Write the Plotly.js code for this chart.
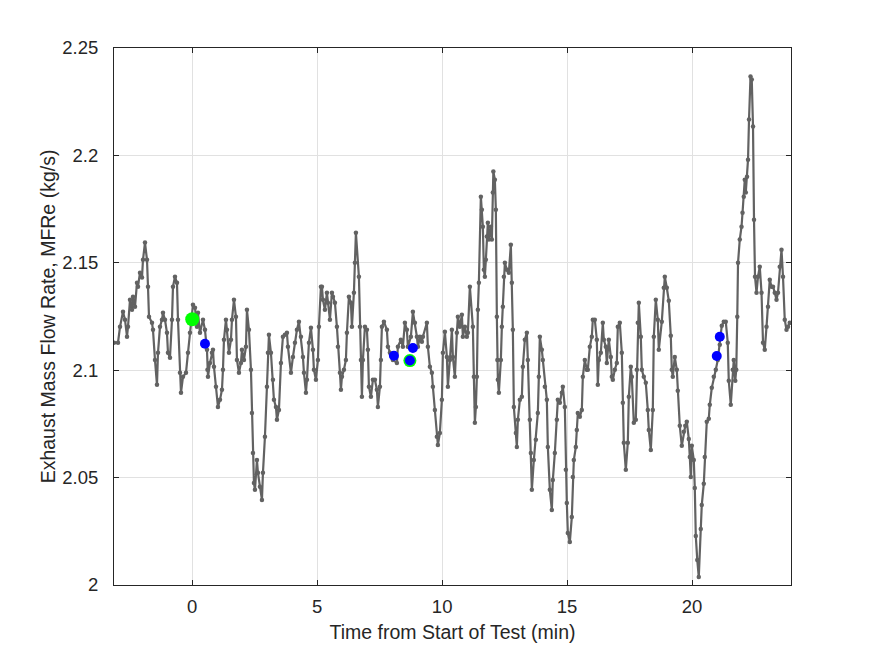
<!DOCTYPE html>
<html>
<head>
<meta charset="utf-8">
<script src="https://cdn.plot.ly/plotly-3.0.1.min.js"></script>
<style>html,body{margin:0;padding:0;background:#fff;}#chart{width:875px;height:656px;}</style>
</head>
<body>
<div id="chart"></div>
<script>
const timeMin = [
-3.13,-2.97,-2.89,-2.77,-2.69,-2.61,-2.57,-2.49,-2.41,-2.37,
-2.29,-2.21,-2.17,-2.09,-2.01,-1.97,-1.89,-1.81,-1.77,-1.73,
-1.61,-1.57,-1.49,-1.41,-1.37,-1.29,-1.21,-1.17,-1.09,-1.01,
-0.97,-0.89,-0.81,-0.77,-0.69,-0.61,-0.57,-0.49,-0.45,-0.37,
-0.25,-0.17,-0.09,-0.01,0.03,0.11,0.19,0.23,0.31,0.43,
0.51,0.59,0.61,0.63,0.71,0.79,0.83,0.87,0.95,1.03,
1.11,1.19,1.23,1.27,1.35,1.39,1.47,1.55,1.59,1.67,
1.75,1.79,1.87,1.95,1.99,2.07,2.15,2.19,2.27,2.35,
2.39,2.43,2.47,2.51,2.59,2.63,2.71,2.79,2.83,2.91,
2.99,3.03,3.07,3.15,3.23,3.27,3.35,3.39,3.47,3.55,
3.63,3.71,3.79,3.83,3.95,4.03,4.11,4.19,4.27,4.35,
4.43,4.47,4.55,4.59,4.67,4.75,4.83,4.87,4.95,5.03,
5.07,5.15,5.19,5.23,5.31,5.39,5.43,5.51,5.59,5.63,
5.71,5.79,5.83,5.91,5.95,5.99,6.07,6.15,6.19,6.27,
6.35,6.39,6.47,6.51,6.55,6.67,6.71,6.75,6.79,6.83,
6.91,6.99,7.03,7.07,7.15,7.23,7.31,7.39,7.43,7.51,
7.55,7.59,7.67,7.79,7.83,7.91,8.03,8.19,8.23,8.35,
8.43,8.51,8.59,8.63,8.75,8.83,8.91,8.99,9.03,9.11,
9.19,9.23,9.39,9.43,9.51,9.59,9.63,9.71,9.79,9.83,
9.91,9.99,10.03,10.11,10.19,10.23,10.31,10.39,10.43,10.51,
10.59,10.63,10.71,10.79,10.83,10.91,10.99,11.03,11.11,11.23,
11.27,11.31,11.35,11.39,11.43,11.47,11.55,11.59,11.63,11.67,
11.71,11.75,11.79,11.83,11.87,11.95,11.99,12.03,12.05,12.11,
12.15,12.19,12.21,12.23,12.27,12.35,12.39,12.43,12.47,12.51,
12.59,12.67,12.75,12.79,12.83,12.87,12.95,12.99,13.03,13.11,
13.19,13.23,13.31,13.39,13.43,13.51,13.55,13.59,13.67,13.75,
13.83,13.87,13.91,13.99,14.03,14.11,14.19,14.23,14.31,14.39,
14.43,14.51,14.59,14.63,14.71,14.79,14.83,14.91,14.95,14.99,
15.03,15.11,15.19,15.23,15.27,15.35,15.39,15.43,15.51,15.59,
15.63,15.71,15.79,15.83,15.91,15.99,16.03,16.11,16.19,16.23,
16.27,16.35,16.43,16.47,16.55,16.59,16.67,16.75,16.79,16.83,
16.91,16.99,17.03,17.11,17.19,17.23,17.27,17.35,17.43,17.47,
17.55,17.59,17.67,17.75,17.79,17.83,17.87,17.95,17.99,18.07,
18.15,18.23,18.27,18.35,18.43,18.47,18.55,18.63,18.67,18.79,
18.87,18.91,18.99,19.07,19.15,19.19,19.23,19.31,19.39,19.43,
19.51,19.59,19.67,19.73,19.79,19.87,19.91,19.95,19.99,20.07,
20.11,20.15,20.21,20.27,20.35,20.39,20.47,20.51,20.59,20.67,
20.71,20.79,20.87,20.95,21.03,21.11,21.19,21.27,21.35,21.43,
21.47,21.55,21.63,21.67,21.73,21.77,21.81,21.84,21.91,21.98,
22.02,22.07,22.11,22.15,22.20,22.24,22.28,22.34,22.39,22.44,
22.48,22.52,22.58,22.64,22.71,22.78,22.84,22.91,22.98,23.04,
23.11,23.18,23.24,23.31,23.38,23.44,23.51,23.58,23.64,23.71,23.78,23.84,23.91
];
const flowRate = [
2.1128,2.1128,2.1202,2.1272,2.1235,2.1156,2.1202,2.1328,2.1281,2.1342,
2.1295,2.1407,2.1389,2.1454,2.1431,2.1514,2.1594,2.1514,2.1389,2.1249,
2.1221,2.1188,2.1048,2.0932,2.1081,2.1202,2.1235,2.1267,2.1235,2.1174,
2.1081,2.1058,2.1235,2.1389,2.1435,2.1407,2.1235,2.0988,2.0895,2.0969,
2.0988,2.1081,2.1174,2.1235,2.1305,2.1291,2.1202,2.1267,2.1174,2.1235,
2.1188,2.1095,2.1002,2.0969,2.1034,2.1081,2.1095,2.1016,2.0923,2.0829,
2.0862,2.0909,2.1002,2.1142,2.1235,2.1188,2.1081,2.1142,2.1235,2.1328,
2.1249,2.1048,2.0988,2.1034,2.1095,2.1048,2.1109,2.1281,2.1188,2.1002,
2.0801,2.0615,2.0475,2.0443,2.0582,2.0522,2.0457,2.0396,2.0522,2.0690,
2.0923,2.1081,2.1165,2.1081,2.0955,2.0862,2.0829,2.0769,2.0815,2.1034,
2.1156,2.1165,2.1174,2.1109,2.0988,2.1062,2.1128,2.1188,2.1226,2.1156,
2.1062,2.0988,2.0895,2.0955,2.1128,2.1198,2.1095,2.1002,2.0955,2.1048,
2.1202,2.1389,2.1389,2.1328,2.1281,2.1361,2.1314,2.1235,2.1361,2.1342,
2.1314,2.1202,2.1109,2.0988,2.0909,2.0969,2.1002,2.1048,2.1174,2.1342,
2.1314,2.1202,2.1361,2.1500,2.1640,2.1435,2.1202,2.1048,2.0876,2.1048,
2.1202,2.1188,2.1095,2.0923,2.0876,2.0955,2.0955,2.0909,2.0829,2.0923,
2.1048,2.1202,2.1226,2.1188,2.1109,2.1081,2.1048,2.1034,2.1109,2.1142,
2.1109,2.1221,2.1188,2.1109,2.1156,2.1272,2.1221,2.1156,2.1109,2.1156,
2.1132,2.1156,2.1221,2.1109,2.1016,2.0988,2.0923,2.0815,2.0690,2.0652,
2.0708,2.0862,2.1081,2.1179,2.1062,2.0923,2.1048,2.1188,2.1062,2.0969,
2.1174,2.1249,2.1202,2.1258,2.1156,2.1202,2.1156,2.1174,2.1389,2.1202,
2.0969,2.0755,2.0829,2.0969,2.1281,2.1407,2.1808,2.1747,2.1668,2.1468,
2.1435,2.1514,2.1622,2.1687,2.1608,2.1668,2.1608,2.1827,2.1925,2.1887,
2.1747,2.1249,2.1048,2.0955,2.0895,2.1048,2.1202,2.1295,2.1435,2.1500,
2.1468,2.1454,2.1584,2.1407,2.1188,2.0829,2.0708,2.0643,2.0769,2.0862,
2.0876,2.1016,2.1142,2.1174,2.1048,2.0769,2.0615,2.0443,2.0582,2.0676,
2.0801,2.0969,2.1156,2.1095,2.1048,2.0923,2.0862,2.0643,2.0443,2.0349,
2.0489,2.0615,2.0769,2.0862,2.0848,2.0895,2.0923,2.0829,2.0536,2.0382,
2.0242,2.0200,2.0317,2.0503,2.0582,2.0643,2.0722,2.0801,2.0783,2.0815,
2.0969,2.1048,2.1002,2.1002,2.1109,2.1156,2.1235,2.1235,2.1142,2.0932,
2.1048,2.1081,2.1221,2.1142,2.1109,2.1034,2.1142,2.1062,2.0969,2.0955,
2.1002,2.1034,2.1202,2.1221,2.1081,2.0848,2.0662,2.0536,2.0662,2.0876,
2.1016,2.0969,2.0755,2.0769,2.1002,2.1221,2.1314,2.1156,2.1002,2.0969,
2.0941,2.0815,2.0722,2.0629,2.0815,2.1156,2.1328,2.1235,2.1095,2.1226,
2.1384,2.1435,2.1384,2.1323,2.1160,2.1002,2.0969,2.1062,2.1002,2.0904,
2.0741,2.0648,2.0713,2.0741,2.0760,2.0680,2.0596,2.0503,2.0648,2.0582,
2.0452,2.0228,2.0116,2.0037,2.0261,2.0373,2.0471,2.0596,2.0760,2.0774,
2.0839,2.0918,2.0969,2.1002,2.1048,2.1118,2.1207,2.1226,2.1226,2.1128,
2.0951,2.0839,2.1002,2.1048,2.0951,2.1002,2.1249,2.1500,2.1608,2.1668,
2.1733,2.1808,2.1887,2.1827,2.1901,2.1980,2.2167,2.2367,2.2353,2.2134,
2.1701,2.1435,2.1361,2.1435,2.1482,2.1361,2.1128,2.1095,2.1202,2.1295,
2.1421,2.1389,2.1389,2.1361,2.1328,2.1361,2.1482,2.1561,2.1435,2.1235,2.1188,2.1202,2.1221
];
// highlighted points
const greenT = [0.00, 8.71];
const greenV = [2.1237, 2.1045];
const greenSize = [14, 13];
const blueT = [0.51, 8.07, 8.83, 8.71, 20.99, 21.11];
const blueV = [2.1123, 2.1067, 2.1103, 2.1045, 2.1066, 2.1156];

const yTickVals = [2, 2.05, 2.1, 2.15, 2.2, 2.25];
const yTickText = ['2', '2.05', '2.1', '2.15', '2.2', '2.25'];
const xTickVals = [0, 5, 10, 15, 20];
const xTickText = ['0', '5', '10', '15', '20'];

const font = 'Liberation Sans, Arial, Helvetica, sans-serif';
const axisCol = '#262626';

const traces = [
  {
    x: timeMin, y: flowRate, type: 'scatter', mode: 'lines+markers',
    line: {color: '#626262', width: 2.2},
    marker: {color: '#626262', size: 4.5},
    hoverinfo: 'x+y', showlegend: false
  },
  {
    x: greenT, y: greenV, type: 'scatter', mode: 'markers',
    marker: {color: '#00ff00', size: greenSize, opacity: 1, line: {width: 0}},
    showlegend: false
  },
  {
    x: blueT, y: blueV, type: 'scatter', mode: 'markers',
    marker: {color: '#0000ff', size: 10, opacity: 1, line: {width: 0}},
    showlegend: false
  }
];

const axisCommon = {
  showline: true, linecolor: axisCol, linewidth: 1, mirror: 'ticks',
  ticks: 'inside', ticklen: 5, tickwidth: 1, tickcolor: axisCol,
  showgrid: true, gridcolor: '#e1e1e1', gridwidth: 1,
  zeroline: false,
  tickfont: {family: font, size: 18.5, color: axisCol}
};

const layout = {
  width: 875, height: 656,
  paper_bgcolor: '#ffffff', plot_bgcolor: '#ffffff',
  margin: {l: 114, r: 84, t: 48, b: 71, pad: 0},
  font: {family: font, color: axisCol},
  xaxis: Object.assign({}, axisCommon, {
    range: [-3.13, 23.96],
    tickmode: 'array', tickvals: xTickVals, ticktext: xTickText,
    ticklabelstandoff: 5,
    title: {text: 'Time from Start of Test (min)', font: {family: font, size: 19.5, color: axisCol}, standoff: 9}
  }),
  yaxis: Object.assign({}, axisCommon, {
    range: [2, 2.25],
    tickmode: 'array', tickvals: yTickVals, ticktext: yTickText,
    ticklabelstandoff: 11,
    title: {text: 'Exhaust Mass Flow Rate, MFRe (kg/s)', font: {family: font, size: 19.5, color: axisCol}, standoff: 1}
  }),
  showlegend: false
};

Plotly.newPlot('chart', traces, layout, {staticPlot: true, displayModeBar: false});
</script>
</body>
</html>
